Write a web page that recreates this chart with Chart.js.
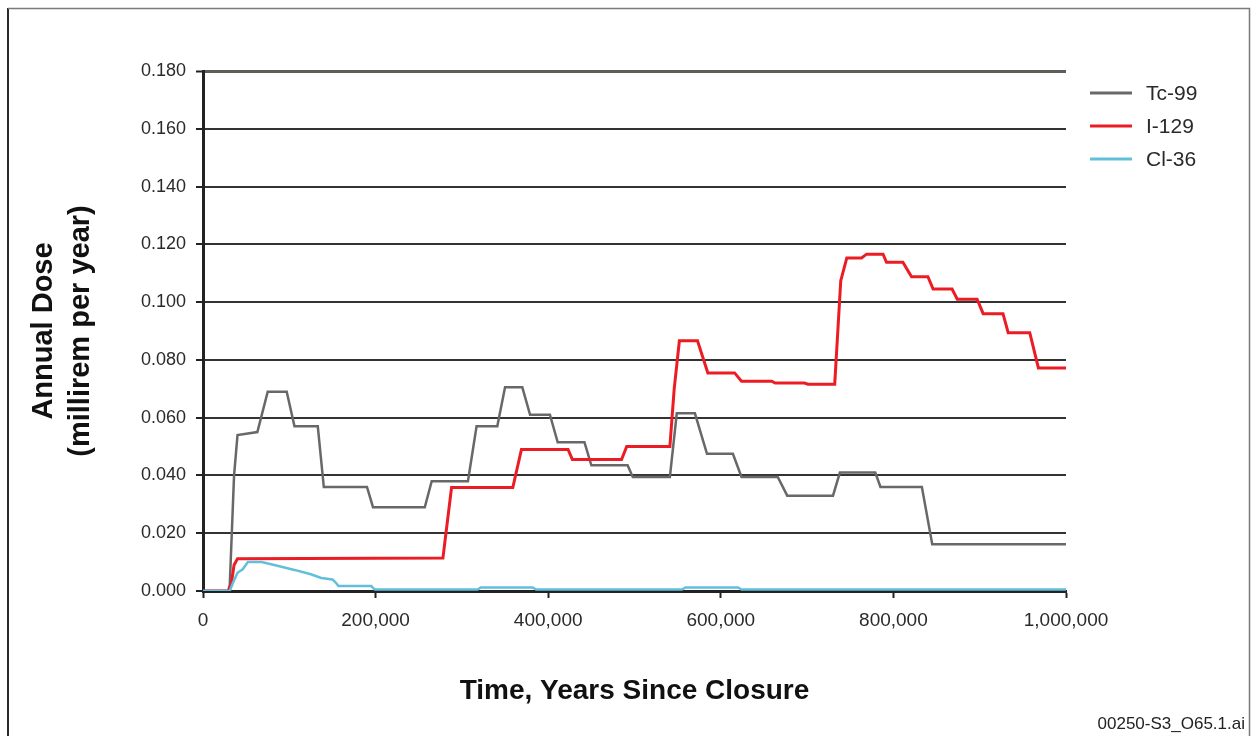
<!DOCTYPE html>
<html>
<head>
<meta charset="utf-8">
<title>Annual Dose</title>
<script src="https://cdn.jsdelivr.net/npm/chart.js"></script>
<style>
  html, body { margin: 0; padding: 0; background: #fff; }
  canvas { display: block; }
</style>
</head>
<body>
<canvas id="doseChart" width="1251" height="736"></canvas>
<script>
// years since closure / annual dose (millirem per year)
const tcYears = [0, 29000, 31000, 36000, 40000, 63000, 75000, 97000, 106000, 133000, 140000, 190000, 197000,
  257000, 265000, 307000, 317000, 341000, 350000, 370000, 379000, 402000, 411000, 442000, 450000,
  492000, 498000, 541000, 549000, 570000, 584000, 614000, 624000, 666000, 677000, 730000, 738000,
  779000, 785000, 833000, 845000, 1000000];
const tcDose = [0, 0, 0.002, 0.040, 0.054, 0.055, 0.069, 0.069, 0.057, 0.057, 0.036, 0.036, 0.029,
  0.029, 0.038, 0.038, 0.057, 0.057, 0.0705, 0.0705, 0.061, 0.061, 0.0515, 0.0515, 0.0435,
  0.0435, 0.0395, 0.0395, 0.0615, 0.0615, 0.0475, 0.0475, 0.0395, 0.0395, 0.033, 0.033, 0.041,
  0.041, 0.036, 0.036, 0.0162, 0.0162];

const iYears = [0, 30000, 33000, 36000, 40000, 278000, 288000, 359000, 369000, 423000, 428000, 485000, 491000,
  541000, 546000, 552000, 573000, 585000, 616000, 624000, 659000, 663000, 697000, 701000, 732000,
  739000, 746000, 763000, 769000, 788000, 792000, 811000, 821000, 840000, 846000, 868000, 874000,
  897000, 904000, 927000, 933000, 958000, 968000, 1000000];
const iDose = [0, 0, 0.003, 0.009, 0.0112, 0.0114, 0.0358, 0.0358, 0.049, 0.049, 0.0455, 0.0455, 0.050,
  0.050, 0.070, 0.0866, 0.0866, 0.0755, 0.0755, 0.0726, 0.0726, 0.072, 0.072, 0.0716, 0.0716,
  0.1074, 0.1153, 0.1153, 0.1166, 0.1166, 0.1138, 0.1138, 0.1088, 0.1088, 0.1045, 0.1045, 0.101,
  0.101, 0.096, 0.096, 0.0894, 0.0894, 0.0772, 0.0772];

const clYears = [0, 31000, 35000, 40000, 46000, 52000, 68000, 85000, 106000, 125000, 137000, 150000, 153000,
  157000, 195000, 199000, 318000, 322000, 382000, 386000, 555000, 559000, 620000, 624000, 1000000];
const clDose = [0, 0, 0.003, 0.0063, 0.0075, 0.0100, 0.0100, 0.0088, 0.0073, 0.0058, 0.0045, 0.0040, 0.0032,
  0.0017, 0.0017, 0.0005, 0.0005, 0.0012, 0.0012, 0.0005, 0.0005, 0.0012, 0.0012, 0.0005, 0.0005];

const seriesNames = ['Tc-99', 'I-129', 'Cl-36'];
const yTickMax = 0.18;
const yTickStep = 0.02;
const xTickStep = 200000;

const fontFamily = 'Arial, "Liberation Sans", Helvetica, sans-serif';

const toPoints = (xs, ys) => xs.map((x, k) => ({ x: x, y: ys[k] }));

// frame, legend and file tag
const extras = {
  id: 'extras',
  beforeDraw(chart) {
    const c = chart.ctx;
    c.save();
    c.fillStyle = '#fff';
    c.fillRect(0, 0, chart.width, chart.height);
    c.strokeStyle = '#2b2b2b';
    c.lineWidth = 2;
    c.beginPath(); c.moveTo(8, 736); c.lineTo(8, 8); c.stroke();
    c.strokeStyle = '#7a7a7a';
    c.lineWidth = 1.5;
    c.beginPath(); c.moveTo(8, 8.5); c.lineTo(1249.5, 8.5); c.lineTo(1249.5, 736); c.stroke();
    c.restore();
  },
  afterDraw(chart) {
    const c = chart.ctx;
    c.save();
    chart.data.datasets.forEach((ds, i) => {
      const y = 93 + i * 33;
      c.strokeStyle = ds.borderColor;
      c.lineWidth = 3;
      c.beginPath(); c.moveTo(1090, y); c.lineTo(1132, y); c.stroke();
      c.fillStyle = '#2a2a2a';
      c.font = '21px ' + fontFamily;
      c.textBaseline = 'middle';
      c.textAlign = 'left';
      c.fillText(ds.label, 1146, y + 1);
    });
    c.fillStyle = '#222';
    c.font = '17px ' + fontFamily;
    c.textAlign = 'right';
    c.textBaseline = 'alphabetic';
    c.fillText('00250-S3_O65.1.ai', 1245, 729);
    c.restore();
  }
};

const ctx = document.getElementById('doseChart');
new Chart(ctx, {
  type: 'line',
  data: {
    datasets: [
      { label: seriesNames[0], data: toPoints(tcYears, tcDose), borderColor: '#686868', borderWidth: 2.5, order: 2 },
      { label: seriesNames[1], data: toPoints(iYears, iDose), borderColor: '#ec1c24', borderWidth: 3, order: 1 },
      { label: seriesNames[2], data: toPoints(clYears, clDose), borderColor: '#62bfdc', borderWidth: 2.5, order: 0 }
    ]
  },
  options: {
    responsive: false,
    animation: false,
    layout: { padding: { left: 0, top: 71, right: 185, bottom: 0 } },
    elements: { point: { radius: 0 }, line: { tension: 0 } },
    plugins: { legend: { display: false }, tooltip: { enabled: false } },
    scales: {
      x: {
        type: 'linear',
        min: 0,
        max: 1000000,
        afterFit: s => { s.height = 145; },
        ticks: {
          stepSize: xTickStep,
          padding: 11,
          maxRotation: 0,
          color: '#2a2a2a',
          font: { family: fontFamily, size: 19 },
          callback: v => v.toLocaleString('en-US')
        },
        grid: { drawOnChartArea: false, tickLength: 7, tickColor: '#222', tickWidth: 2 },
        border: { color: '#222', width: 3 },
        title: {
          display: true,
          text: 'Time, Years Since Closure',
          color: '#111',
          font: { family: fontFamily, size: 28, weight: 'bold' },
          padding: { bottom: 28 }
        }
      },
      y: {
        min: 0,
        max: yTickMax,
        afterFit: s => { s.width = 203; },
        ticks: {
          stepSize: yTickStep,
          padding: 10,
          color: '#2a2a2a',
          font: { family: fontFamily, size: 18 },
          callback: v => v.toFixed(3)
        },
        grid: {
          color: c => (c.tick && c.tick.value > yTickMax - 0.001) ? '#5f5d57' : '#333',
          lineWidth: c => (c.tick && c.tick.value > yTickMax - 0.001) ? 3 : 2,
          tickLength: 7,
          tickColor: '#222',
          tickWidth: 2
        },
        border: { color: '#222', width: 3 },
        title: {
          display: true,
          text: ['Annual Dose', '(millirem per year)'],
          color: '#111',
          font: { family: fontFamily, size: 29, weight: 'bold', lineHeight: '37px' },
          padding: { top: 25 }
        }
      }
    }
  },
  plugins: [extras]
});
</script>
</body>
</html>
